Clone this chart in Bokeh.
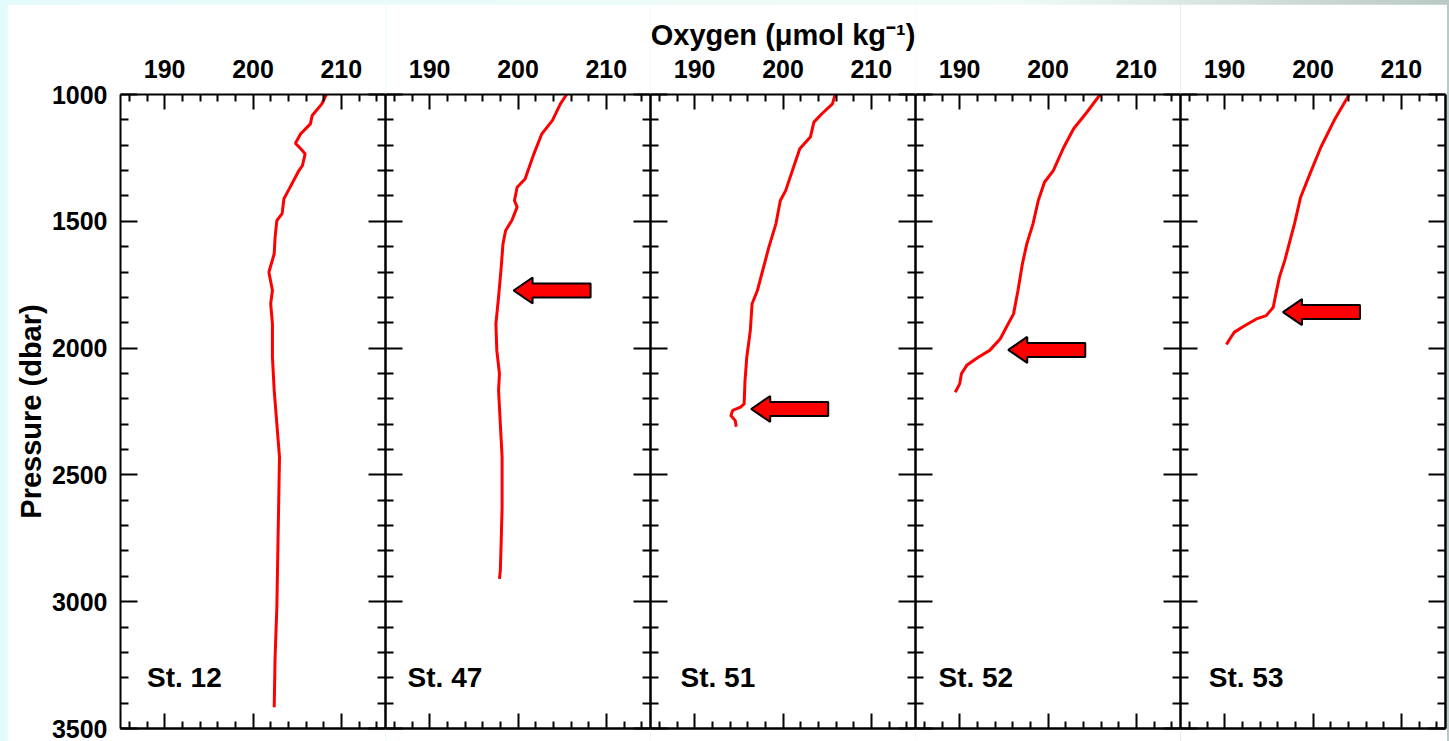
from bokeh.plotting import figure
from bokeh.layouts import row
from bokeh.models import Range1d, LinearAxis, FixedTicker
from bokeh.core.properties import value
from bokeh.embed import file_html
from bokeh.resources import INLINE

# ---------------- data ----------------
stations = ["St. 12", "St. 47", "St. 51", "St. 52", "St. 53"]

st12_pressure = [1000, 1037, 1083, 1116, 1155, 1192, 1214, 1234, 1280, 1300, 1339, 1372, 1411,
                 1470, 1497, 1563, 1628, 1701, 1773, 1825, 1904, 2036, 2167, 2299, 2430, 2627,
                 2824, 3022, 3219, 3416]
st12_oxygen = [208.3, 207.8, 206.7, 206.5, 205.4, 204.8, 205.4, 205.9, 205.6, 205.2, 204.6, 204.1,
               203.5, 203.3, 202.7, 202.5, 202.4, 201.8, 202.2, 202.0, 202.2, 202.2, 202.4, 202.7,
               203.0, 202.9, 202.8, 202.7, 202.5, 202.4]

st47_pressure = [1000, 1037, 1102, 1155, 1234, 1333, 1366, 1418, 1444, 1497, 1536, 1589, 1681,
                 1799, 1904, 2009, 2101, 2167, 2299, 2430, 2627, 2759, 2877, 2910]
st47_oxygen = [205.5, 204.8, 203.9, 202.7, 201.8, 200.8, 199.9, 199.6, 199.9, 199.3, 198.6, 198.3,
               198.1, 197.8, 197.5, 197.6, 197.9, 197.8, 198.0, 198.2, 198.2, 198.1, 198.0, 197.9]

st51_pressure = [1000, 1037, 1076, 1109, 1168, 1214, 1286, 1379, 1418, 1510, 1602, 1694, 1773,
                 1825, 1931, 2036, 2128, 2220, 2233, 2246, 2266, 2286, 2310]
st51_oxygen = [205.9, 205.6, 204.4, 203.5, 203.1, 201.9, 201.2, 200.3, 199.7, 199.2, 198.4, 197.7,
               197.1, 196.5, 196.3, 195.9, 195.7, 195.6, 195.2, 194.3, 194.1, 194.6, 194.7]

st52_pressure = [1000, 1070, 1135, 1214, 1300, 1346, 1418, 1510, 1589, 1668, 1773, 1865, 1917,
                 1963, 2009, 2036, 2068, 2101, 2141, 2174]
st52_oxygen = [205.9, 204.4, 202.9, 201.7, 200.6, 199.6, 198.9, 198.3, 197.6, 197.1, 196.6, 196.1,
               195.3, 194.6, 193.4, 192.1, 190.8, 190.2, 190.0, 189.5]

st53_pressure = [1000, 1102, 1207, 1300, 1405, 1510, 1589, 1655, 1720, 1786, 1839, 1872, 1885,
                 1911, 1937, 1963, 1986]
st53_oxygen = [204.1, 202.4, 200.9, 199.8, 198.6, 197.9, 197.3, 196.8, 196.2, 195.8, 195.5, 194.7,
               193.6, 192.3, 191.1, 190.6, 190.2]

pressures = [st12_pressure, st47_pressure, st51_pressure, st52_pressure, st53_pressure]
oxygens = [st12_oxygen, st47_oxygen, st51_oxygen, st52_oxygen, st53_oxygen]

# arrow tips (None = no arrow)
arrow_oxygen = [None, 199.5, 196.4, 195.5, 196.6]
arrow_pressure = [None, 1773, 2240, 2007, 1858]

# station label anchors
label_oxygen = [188.0, 187.5, 188.4, 187.6, 188.2]
label_pressure = [3300, 3300, 3300, 3300, 3300]

x_major_ticks = [190, 200, 210]
x_minor_ticks = [186, 188, 192, 194, 196, 198, 202, 204, 206, 208, 212, 214]
y_major_ticks = [1000, 1500, 2000, 2500, 3000, 3500]
y_minor_ticks = [v for v in range(1000, 3501, 100) if v % 500]

x_limits = (185, 215)
y_limits = (3500, 1000)

title_text = "Oxygen (\u03bcmol kg\u207b\u00b9)"
ylabel_text = "Pressure (dbar)"

# ---------------- layout / style ----------------
FONT = "Liberation Sans"
PANEL_W = 265
FRAME_H = 634
LEFT_B = 113
TOP_B = 90
BOT_B = 13
H = TOP_B + FRAME_H + BOT_B

# arrow shape in screen pixels (tip at origin, pointing left)
ARROW_PX = [(0, 0), (19, -13), (19, -7), (77, -7), (77, 7), (19, 7), (19, 13)]
PX_X = (x_limits[1] - x_limits[0]) / PANEL_W
PX_Y = (y_limits[0] - y_limits[1]) / FRAME_H

y_range = Range1d(*y_limits)


def base_axis(ax):
    ax.axis_line_width = 2
    ax.axis_line_color = "black"
    ax.major_tick_line_width = 2
    ax.minor_tick_line_width = 2
    ax.major_tick_line_color = "black"
    ax.minor_tick_line_color = "black"
    ax.major_tick_out = 0
    ax.minor_tick_out = 0
    ax.major_label_standoff = 0


def label_axis(ax, major_ticks, minor_ticks, major_in, minor_in, standoff):
    ax.ticker = FixedTicker(ticks=major_ticks, minor_ticks=minor_ticks)
    base_axis(ax)
    ax.major_tick_in = major_in
    ax.minor_tick_in = minor_in
    ax.major_label_text_font = FONT
    ax.major_label_text_font_style = "bold"
    ax.major_label_text_font_size = "25px"
    ax.major_label_text_color = "black"
    ax.major_label_standoff = standoff


def bare_axes(p, side, major_ticks, minor_ticks, major_in, minor_in):
    # tick-only axes (no tick labels): one for short ticks, one for long ticks
    for ticks, length in ((minor_ticks, minor_in), (major_ticks, major_in)):
        ax = LinearAxis(ticker=FixedTicker(ticks=[], minor_ticks=ticks))
        base_axis(ax)
        ax.major_tick_in = 0
        ax.minor_tick_in = length
        p.add_layout(ax, side)


figs = []
for i in range(5):
    first = i == 0
    last = i == 4
    width = PANEL_W + (LEFT_B if first else 0) + (2 if last else 0)
    p = figure(width=width, height=H, x_range=Range1d(*x_limits), y_range=y_range,
               x_axis_location="above", y_axis_location="left" if first else None,
               output_backend="svg", toolbar_location=None,
               min_border_left=LEFT_B if first else 0, min_border_right=2 if last else 0,
               min_border_top=TOP_B, min_border_bottom=BOT_B)
    p.outline_line_color = None
    p.grid.visible = False
    p.background_fill_color = "white"
    p.border_fill_color = "white"

    label_axis(p.xaxis[0], x_major_ticks, x_minor_ticks, 15, 7, 17)
    bare_axes(p, "below", x_major_ticks, x_minor_ticks, 15, 7)

    if first:
        left = p.yaxis[0]
        label_axis(left, y_major_ticks, y_minor_ticks, 17, 8, 13)
        left.axis_label = ylabel_text
        left.axis_label_text_font = FONT
        left.axis_label_text_font_style = "bold"
        left.axis_label_text_font_size = "29px"
        left.axis_label_text_color = "black"
        left.axis_label_standoff = 2
    else:
        bare_axes(p, "left", y_major_ticks, y_minor_ticks, 17, 8)
    bare_axes(p, "right", y_major_ticks, y_minor_ticks, 17, 8)

    if i == 2:
        p.title.text = title_text
        p.title.align = "center"
        p.title.text_font = FONT
        p.title.text_font_style = "bold"
        p.title.text_font_size = "29px"
        p.title.text_color = "black"
        p.title.standoff = 12

    p.line(oxygens[i], pressures[i], line_color="#ff0000", line_width=3)

    if arrow_oxygen[i] is not None:
        xs = [arrow_oxygen[i] + dx * PX_X for dx, dy in ARROW_PX]
        ys = [arrow_pressure[i] + dy * PX_Y for dx, dy in ARROW_PX]
        p.patch(xs, ys, fill_color="#ff0000", line_color="black", line_width=2)

    p.text(x=[label_oxygen[i]], y=[label_pressure[i]], text=[stations[i]],
           text_font=value(FONT), text_font_style="bold", text_font_size="28px",
           text_color="black", text_baseline="middle", text_align="left")
    figs.append(p)

layout = row(*figs, spacing=0)

html = file_html(layout, INLINE, title="Oxygen profiles")
page_css = ("<style>html, body { margin: 0 !important; } "
            "body { padding: 4px 0 0 7px !important; box-sizing: border-box; "
            "background: linear-gradient(90deg, #e4fbfb 0%, #f0fbf6 70%, #b9c9c5 100%) !important; }"
            "</style>")
if "</head>" in html:
    html = html.replace("</head>", page_css + "</head>", 1)
open("out.html", "w").write(html)
